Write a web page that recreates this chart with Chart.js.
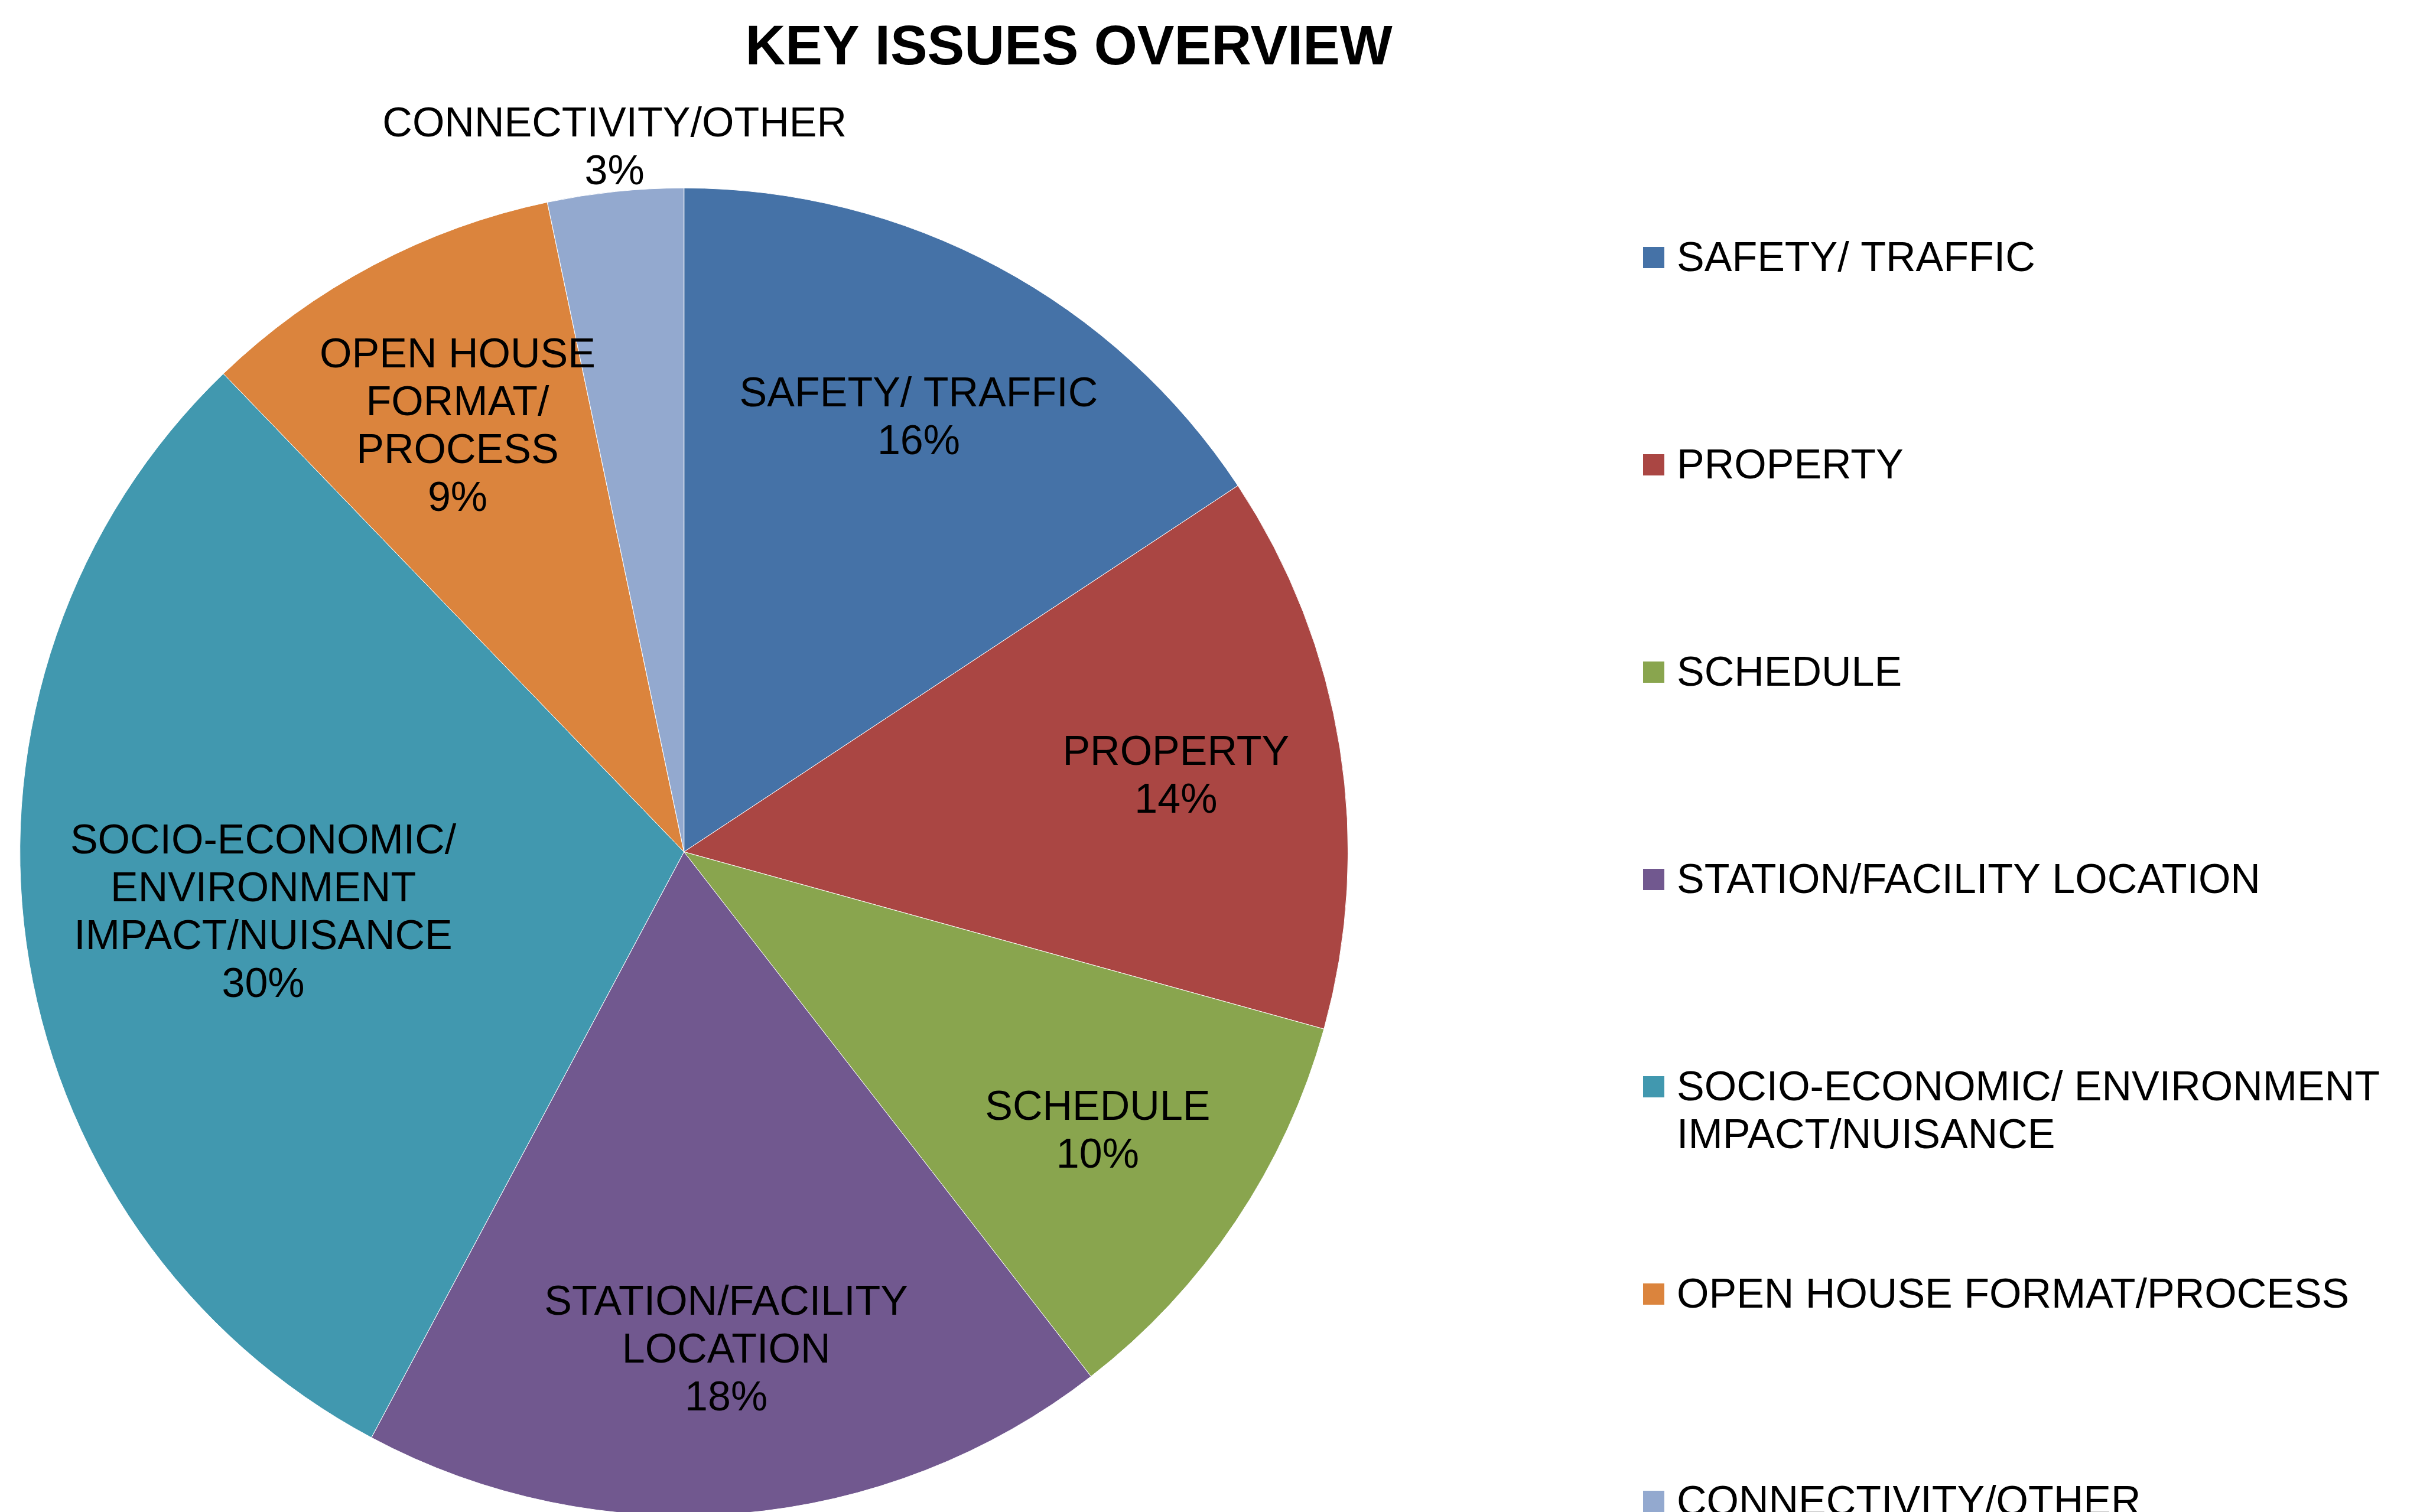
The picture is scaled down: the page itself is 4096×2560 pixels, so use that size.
<!DOCTYPE html>
<html>
<head>
<meta charset="utf-8">
<title>Key Issues Overview</title>
<script src="https://cdn.jsdelivr.net/npm/chart.js@4.4.0/dist/chart.umd.min.js"></script>
<style>
  html, body { margin: 0; padding: 0; background: #ffffff; overflow: hidden; }
  #wrap { position: relative; width: 4096px; height: 2567px; }
</style>
</head>
<body>
<div id="wrap"><canvas id="pieChart"></canvas></div>
<script>
const chartTitle = "KEY ISSUES OVERVIEW";

const categories = [
  "SAFETY/ TRAFFIC",
  "PROPERTY",
  "SCHEDULE",
  "STATION/FACILITY LOCATION",
  "SOCIO-ECONOMIC/ ENVIRONMENT IMPACT/NUISANCE",
  "OPEN HOUSE FORMAT/PROCESS",
  "CONNECTIVITY/OTHER",
];

// wrapped category text as it sits on the slices
const sliceLabelLines = [
  ["SAFETY/ TRAFFIC"],
  ["PROPERTY"],
  ["SCHEDULE"],
  ["STATION/FACILITY", "LOCATION"],
  ["SOCIO-ECONOMIC/", "ENVIRONMENT", "IMPACT/NUISANCE"],
  ["OPEN HOUSE", "FORMAT/", "PROCESS"],
  ["CONNECTIVITY/OTHER"],
];

// share of comments, percent
const shares = [15.7, 13.6, 10.2, 18.3, 30.0, 8.9, 3.3];

const sliceColors = ["#4572A7", "#AA4643", "#89A54E", "#71588F", "#4198AF", "#DB843D", "#93A9CF"];

const FONT = '"Liberation Sans", Arial, Helvetica, sans-serif';
const TEXT_SIZE = 70;
const LINE_H = 81;
const CAP_H = TEXT_SIZE * 0.716;

const total = shares.reduce((a, b) => a + b, 0);
const pct = (v) => `${Math.round((v / total) * 100)}%`;

function drawBlock(ctx, lines, cx, cy) {
  const n = lines.length;
  lines.forEach((line, i) => {
    const y = cy - ((n - 1) * LINE_H) / 2 + i * LINE_H + CAP_H / 2;
    ctx.fillText(line, cx, y);
  });
}

const sliceLabelPlugin = {
  id: "sliceLabels",
  afterDatasetsDraw(chart) {
    const ctx = chart.ctx;
    const meta = chart.getDatasetMeta(0);
    ctx.save();
    ctx.font = `${TEXT_SIZE}px ${FONT}`;
    ctx.fillStyle = "#000000";
    ctx.textAlign = "center";
    ctx.textBaseline = "alphabetic";

    meta.data.forEach((arc, i) => {
      const { x, y, startAngle, endAngle, outerRadius } = arc.getProps(
        ["x", "y", "startAngle", "endAngle", "outerRadius"], true);
      const R = outerRadius;
      const mid = (startAngle + endAngle) / 2;
      const cos = Math.cos(mid);
      const sin = Math.sin(mid);
      const lines = [...sliceLabelLines[i], pct(shares[i])];
      const w = Math.max(...lines.map((l) => ctx.measureText(l).width));
      const h = (lines.length - 1) * LINE_H + CAP_H;

      if (shares[i] / total < 0.05) {
        // small slice: label sits outside the pie
        const ax = x + cos * (R + 12);
        const ay = y + sin * (R + 12);
        let cx = ax, cy = ay;
        if (Math.abs(sin) > Math.abs(cos)) cy += Math.sign(sin) * h / 2;
        else cx += Math.sign(cos) * w / 2;
        drawBlock(ctx, lines, cx, cy);
        return;
      }

      const maxCorner = (d) => {
        const cx = cos * d, cy = sin * d;
        let m = 0;
        [[-1, -1], [1, -1], [-1, 1], [1, 1]].forEach(([sx, sy]) => {
          m = Math.max(m, Math.hypot(cx + sx * w / 2, cy + sy * h / 2));
        });
        return m;
      };
      let d = 0.75 * R;
      while (d > 0.3 * R && maxCorner(d) > 0.95 * R) d -= 2;
      drawBlock(ctx, lines, x + cos * d, y + sin * d);
    });
    ctx.restore();
  },
};

function wrapWords(ctx, text, maxW) {
  const words = text.split(" ");
  const out = [];
  let cur = "";
  words.forEach((wd) => {
    const test = cur ? `${cur} ${wd}` : wd;
    if (cur && ctx.measureText(test).width > maxW) {
      out.push(cur);
      cur = wd;
    } else {
      cur = test;
    }
  });
  if (cur) out.push(cur);
  return out;
}

const sideLegendPlugin = {
  id: "sideLegend",
  afterDraw(chart) {
    const ctx = chart.ctx;
    const boxLeft = 2781;
    const box = 36;
    const textLeft = 2838;
    const firstY = 436;
    const step = 351;
    ctx.save();
    ctx.font = `${TEXT_SIZE}px ${FONT}`;
    ctx.textAlign = "left";
    ctx.textBaseline = "alphabetic";
    categories.forEach((name, i) => {
      const cy = firstY + i * step;
      ctx.fillStyle = sliceColors[i];
      ctx.fillRect(boxLeft, cy - box / 2, box, box);
      ctx.fillStyle = "#000000";
      const lines = wrapWords(ctx, name, chart.width - textLeft - 20);
      lines.forEach((line, j) => {
        ctx.fillText(line, textLeft, cy + CAP_H / 2 - 2 + j * LINE_H);
      });
    });
    ctx.restore();
  },
};

const titlePlugin = {
  id: "topTitle",
  afterDraw(chart) {
    const ctx = chart.ctx;
    ctx.save();
    ctx.font = `bold 94px ${FONT}`;
    ctx.fillStyle = "#000000";
    ctx.textAlign = "center";
    ctx.textBaseline = "alphabetic";
    ctx.fillText(chartTitle, 1809, 109);
    ctx.restore();
  },
};

new Chart(document.getElementById("pieChart"), {
  type: "pie",
  data: {
    labels: categories,
    datasets: [{
      data: shares,
      backgroundColor: sliceColors,
      borderColor: "#ffffff",
      borderWidth: 1,
    }],
  },
  options: {
    responsive: true,
    maintainAspectRatio: false,
    animation: false,
    layout: { padding: { top: 317.6, left: 33.2, right: 1813.8, bottom: 0 } },
    plugins: {
      legend: { display: false },
      title: { display: false },
      tooltip: { enabled: false },
    },
  },
  plugins: [sliceLabelPlugin, sideLegendPlugin, titlePlugin],
});
</script>
</body>
</html>
